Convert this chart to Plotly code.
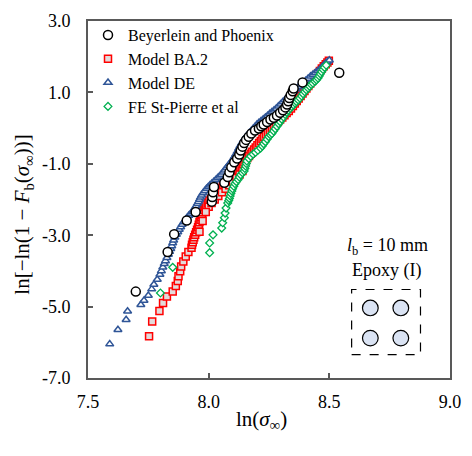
import plotly.graph_objects as go

# ---- data ----
bp_x = [7.698, 7.830, 7.857, 7.909, 7.946, 8.013, 8.015, 8.018, 8.022, 8.065, 8.079, 8.086, 8.094,
        8.106, 8.118, 8.127, 8.133, 8.140, 8.147, 8.155, 8.166, 8.177, 8.192, 8.208, 8.218, 8.228,
        8.242, 8.256, 8.270, 8.283, 8.296, 8.308, 8.318, 8.325, 8.330, 8.334, 8.340, 8.348, 8.352,
        8.389, 8.541]
bp_y = [-4.58, -3.47, -2.97, -2.59, -2.35, -2.06, -1.93, -1.80, -1.65, -1.53, -1.37, -1.24, -1.10,
        -0.96, -0.85, -0.74, -0.63, -0.52, -0.42, -0.33, -0.24, -0.15, -0.07, -0.01, 0.05, 0.10,
        0.17, 0.24, 0.29, 0.35, 0.43, 0.50, 0.58, 0.66, 0.75, 0.84, 0.93, 1.03, 1.11,
        1.28, 1.55]

ba_x = [7.753, 7.766, 7.796, 7.811, 7.827, 7.851, 7.864, 7.872, 7.875, 7.882, 7.886, 7.895, 7.905,
        7.916, 7.929, 7.931, 7.934, 7.937, 7.940, 7.944, 7.948, 7.952, 7.956, 7.959, 7.962, 7.966,
        7.969, 7.972, 7.976, 7.980, 7.985, 7.990, 7.996, 8.003, 8.010, 8.017, 8.024, 8.031, 8.038,
        8.045, 8.052, 8.059, 8.066, 8.073, 8.080, 8.087, 8.094, 8.101, 8.108, 8.115, 8.122, 8.129,
        8.136, 8.142, 8.148, 8.154, 8.160, 8.167, 8.174, 8.181, 8.188, 8.195, 8.202, 8.209, 8.216,
        8.223, 8.230, 8.238, 8.246, 8.254, 8.262, 8.270, 8.278, 8.287, 8.296, 8.305, 8.314, 8.323,
        8.332, 8.341, 8.349, 8.357, 8.365, 8.373, 8.381, 8.389, 8.397, 8.405, 8.413, 8.421, 8.429,
        8.437, 8.445, 8.453, 8.461, 8.469, 8.477, 8.485, 8.492, 8.498,
        8.000, 8.012, 8.025, 8.040, 8.055, 8.070, 8.085, 8.100, 8.115, 8.128, 8.140,
        7.962, 7.975, 7.988]
ba_y = [-5.83, -5.42, -5.12, -4.90, -4.72, -4.58, -4.42, -4.28, -4.15, -4.01, -3.88, -3.74, -3.60,
        -3.47, -3.35, -3.27, -3.20, -3.13, -3.06, -2.99, -2.92, -2.85, -2.78, -2.71, -2.64, -2.57,
        -2.50, -2.43, -2.36, -2.29, -2.22, -2.15, -2.09, -2.03, -1.98, -1.93, -1.88, -1.83, -1.78,
        -1.73, -1.68, -1.63, -1.58, -1.53, -1.48, -1.43, -1.38, -1.33, -1.28, -1.23, -1.18, -1.13,
        -1.08, -1.02, -0.96, -0.90, -0.84, -0.78, -0.72, -0.66, -0.60, -0.54, -0.48, -0.42, -0.36,
        -0.30, -0.24, -0.18, -0.12, -0.06, 0.00, 0.06, 0.12, 0.18, 0.24, 0.30, 0.36, 0.42,
        0.48, 0.55, 0.62, 0.69, 0.76, 0.83, 0.90, 0.97, 1.04, 1.11, 1.18, 1.25, 1.32,
        1.39, 1.46, 1.53, 1.60, 1.67, 1.73, 1.79, 1.84, 1.89,
        -2.20, -2.10, -2.00, -1.90, -1.80, -1.70, -1.60, -1.50, -1.40, -1.30, -1.20,
        -2.90, -2.60, -2.35]

de_x = [7.590, 7.624, 7.658, 7.664, 7.719, 7.732, 7.750, 7.764, 7.773, 7.787, 7.798, 7.804, 7.810,
        7.816, 7.821, 7.827, 7.833, 7.838, 7.843, 7.847, 7.851, 7.855, 7.860, 7.866, 7.872, 7.878,
        7.884, 7.890, 7.897, 7.904, 7.911, 7.918, 7.925, 7.932, 7.938, 7.943, 7.948, 7.953, 7.958,
        7.962, 7.966, 7.971, 7.977, 7.984, 7.991, 7.998, 8.005, 8.013, 8.021, 8.029, 8.037, 8.045,
        8.052, 8.059, 8.066, 8.073, 8.080, 8.087, 8.094, 8.100, 8.106, 8.112, 8.118, 8.124, 8.130,
        8.137, 8.144, 8.152, 8.160, 8.168, 8.176, 8.184, 8.192, 8.200, 8.208, 8.217, 8.226, 8.235,
        8.244, 8.253, 8.262, 8.271, 8.280, 8.289, 8.298, 8.307, 8.316, 8.325, 8.334, 8.343, 8.352,
        8.362, 8.372, 8.382, 8.392, 8.402, 8.412, 8.422, 8.432, 8.442, 8.452, 8.461, 8.470, 8.478,
        8.485, 8.492, 8.500]
de_y = [-6.05, -5.65, -5.37, -5.13, -4.95, -4.83, -4.69, -4.51, -4.38, -4.24, -4.10, -4.00, -3.90,
        -3.80, -3.72, -3.63, -3.54, -3.46, -3.38, -3.30, -3.22, -3.14, -3.06, -2.98, -2.91, -2.84,
        -2.77, -2.70, -2.63, -2.57, -2.51, -2.45, -2.40, -2.35, -2.30, -2.24, -2.18, -2.12, -2.06,
        -2.00, -1.94, -1.88, -1.82, -1.76, -1.70, -1.65, -1.60, -1.55, -1.50, -1.45, -1.40, -1.35,
        -1.30, -1.24, -1.18, -1.12, -1.06, -1.00, -0.94, -0.88, -0.81, -0.74, -0.66, -0.58, -0.50,
        -0.42, -0.34, -0.27, -0.20, -0.14, -0.08, -0.02, 0.04, 0.10, 0.15, 0.20, 0.25, 0.30,
        0.35, 0.40, 0.45, 0.50, 0.55, 0.61, 0.67, 0.73, 0.79, 0.85, 0.91, 0.97, 1.03,
        1.09, 1.15, 1.21, 1.27, 1.33, 1.39, 1.45, 1.50, 1.55, 1.60, 1.65, 1.71, 1.77,
        1.82, 1.86, 1.90]

fe_x = [7.800, 7.851, 8.004, 8.004, 8.018, 8.054, 8.058, 8.065, 8.068, 8.072, 8.079, 8.083, 8.086,
        8.089, 8.092, 8.096, 8.099, 8.104, 8.109, 8.115, 8.122, 8.127, 8.133, 8.140, 8.147, 8.150,
        8.153, 8.156, 8.158, 8.166, 8.174, 8.184, 8.194, 8.204, 8.215, 8.222, 8.228, 8.235, 8.242,
        8.249, 8.256, 8.262, 8.269, 8.276, 8.283, 8.290, 8.296, 8.303, 8.310, 8.317, 8.323, 8.330,
        8.337, 8.344, 8.351, 8.358, 8.364, 8.371, 8.378, 8.385, 8.391, 8.398, 8.405, 8.412, 8.418,
        8.425, 8.432, 8.440, 8.447, 8.453, 8.458, 8.463, 8.468, 8.474, 8.480, 8.487]
fe_y = [-4.62, -3.90, -3.49, -3.22, -2.99, -2.80, -2.65, -2.51, -2.38, -2.24, -2.10, -2.03, -1.97,
        -1.90, -1.83, -1.76, -1.70, -1.63, -1.56, -1.50, -1.44, -1.37, -1.31, -1.25, -1.20, -1.13,
        -1.06, -0.99, -0.92, -0.85, -0.79, -0.73, -0.68, -0.62, -0.56, -0.50, -0.44, -0.38, -0.31,
        -0.24, -0.19, -0.15, -0.08, -0.02, 0.05, 0.12, 0.18, 0.25, 0.31, 0.38, 0.44, 0.50,
        0.55, 0.60, 0.65, 0.70, 0.74, 0.79, 0.84, 0.90, 0.96, 1.02, 1.07, 1.12, 1.17,
        1.22, 1.26, 1.31, 1.35, 1.40, 1.46, 1.52, 1.58, 1.64, 1.70, 1.76]

x_ticks = [7.5, 8.0, 8.5, 9.0]
y_ticks = [-7.0, -5.0, -3.0, -1.0, 1.0, 3.0]

FONT = "Liberation Serif, Times New Roman, serif"
AX = "#595959"

fig = go.Figure()
fig.add_trace(go.Scatter(x=ba_x, y=ba_y, mode="markers", name="Model BA.2", legendrank=2,
                         marker=dict(symbol="square", size=7, color="#E3DADA",
                                     line=dict(color="#FF0000", width=1.5))))
fig.add_trace(go.Scatter(x=de_x, y=de_y, mode="markers", name="Model DE", legendrank=3,
                         marker=dict(symbol="triangle-up", size=7, color="#FFFFFF",
                                     line=dict(color="#2F5597", width=1.5))))
fig.add_trace(go.Scatter(x=fe_x, y=fe_y, mode="markers", name="FE St-Pierre et al", legendrank=4,
                         marker=dict(symbol="diamond", size=6, color="#FFFFFF",
                                     line=dict(color="#00B050", width=1.3))))
fig.add_trace(go.Scatter(x=bp_x, y=bp_y, mode="markers", name="Beyerlein and Phoenix", legendrank=1,
                         marker=dict(symbol="circle", size=9, color="#FFFFFF",
                                     line=dict(color="#000000", width=1.5))))

px0, px1, py0, py1 = 88, 456, 11, 378
W, H = 472, 456


def fx(p):
    return (p - px0) / (px1 - px0)


def fy(p):
    return (py1 - p) / (py1 - py0)


shapes = [dict(type="rect", xref="paper", yref="paper", x0=fx(356), x1=fx(426), y0=fy(354), y1=fy(287),
               line=dict(color="#000000", width=1.2, dash="dash"))]
r = 8
for cx in (375, 406):
    for cy in (306, 337):
        shapes.append(dict(type="circle", xref="paper", yref="paper",
                           x0=fx(cx - r), x1=fx(cx + r), y0=fy(cy + r), y1=fy(cy - r),
                           fillcolor="#DAE3F3", line=dict(color="#000000", width=1.2)))

TXT = dict(family=FONT, size=18, color="#000")
TITLE = dict(family=FONT, size=21, color="#000")
annotations = [
    dict(text="<i>l</i><sub>b</sub> = 10 mm", xref="paper", yref="paper", x=fx(392), y=fy(243),
         xanchor="center", yanchor="middle", showarrow=False, font=TXT),
    dict(text="Epoxy (I)", xref="paper", yref="paper", x=fx(391), y=fy(268),
         xanchor="center", yanchor="middle", showarrow=False, font=TXT),
    dict(text="ln(<i>σ</i><sub>∞</sub>)", xref="paper", yref="paper", x=fx(264), y=fy(421),
         xanchor="center", yanchor="middle", showarrow=False, font=TITLE),
    dict(text="ln[−ln(1 − <i>F</i><sub>b</sub>(<i>σ</i><sub>∞</sub>))]", xref="paper", yref="paper",
         x=fx(22), y=fy(210), xanchor="center", yanchor="middle", textangle=-90, showarrow=False,
         font=TITLE),
]

fig.update_layout(
    width=W, height=H,
    margin=dict(l=px0, r=W - px1, t=py0, b=H - py1),
    paper_bgcolor="white", plot_bgcolor="white",
    font=dict(family=FONT, size=18, color="#000"),
    showlegend=True,
    legend=dict(x=fx(88), y=fy(8), xanchor="left", yanchor="top", bgcolor="rgba(0,0,0,0)",
                font=dict(family=FONT, size=16, color="#000"), itemwidth=30),
    shapes=shapes, annotations=annotations,
)
fig.update_xaxes(range=[7.5, 9.0], tickvals=x_ticks, ticktext=[f"{v:.1f}" for v in x_ticks],
                 showline=True, linecolor=AX, linewidth=1.8, mirror=True, ticks="inside",
                 ticklen=5, tickcolor=AX, tickwidth=1.5, showgrid=False, zeroline=False,
                 tickfont=dict(family=FONT, size=18, color="#000"), ticklabelstandoff=6)
fig.update_yaxes(range=[-7.0, 3.0], tickvals=y_ticks, ticktext=[f"{v:.1f}" for v in y_ticks],
                 showline=True, linecolor=AX, linewidth=1.8, mirror=True, ticks="inside",
                 ticklen=5, tickcolor=AX, tickwidth=1.5, showgrid=False, zeroline=False,
                 tickfont=dict(family=FONT, size=18, color="#000"), ticklabelstandoff=12)

fig.write_html("out.html")
